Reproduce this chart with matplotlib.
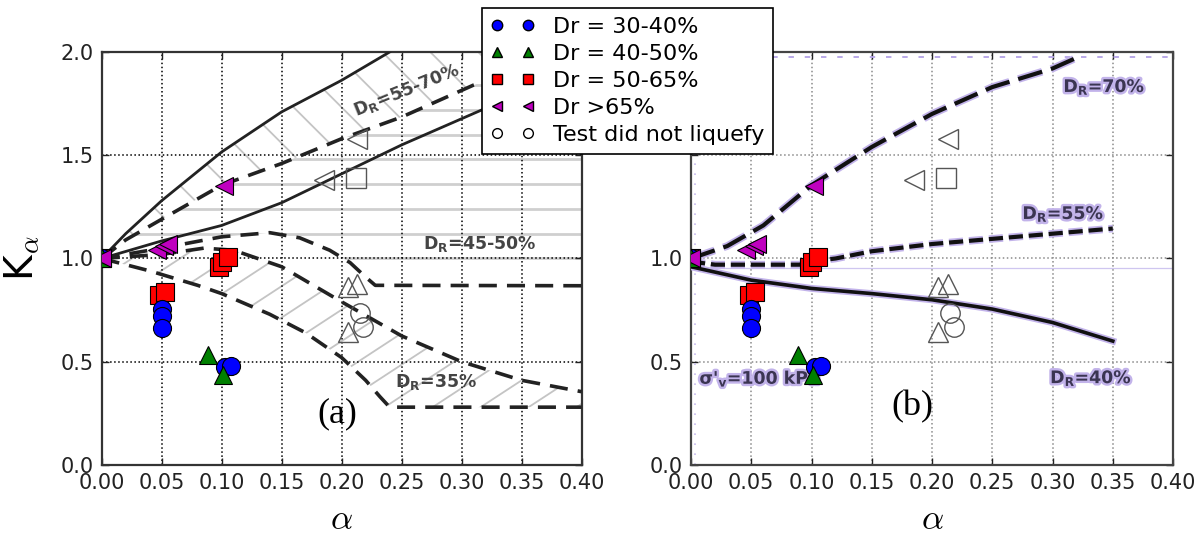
import numpy as np
import matplotlib
matplotlib.use('Agg')
import matplotlib.pyplot as plt
import matplotlib.patheffects as pe
from matplotlib.lines import Line2D
from matplotlib.collections import LineCollection
from matplotlib.path import Path

# test results, same points on both panels
blue_x = [0.0, 0.05, 0.05, 0.05, 0.103, 0.108]
blue_y = [1.0, 0.755, 0.72, 0.665, 0.475, 0.48]
green_x = [0.0, 0.089, 0.101]
green_y = [1.0, 0.535, 0.435]
red_x = [0.0, 0.048, 0.053, 0.098, 0.100, 0.105]
red_y = [1.0, 0.825, 0.84, 0.96, 0.985, 1.005]
mag_x = [0.0, 0.046, 0.052, 0.055, 0.102]
mag_y = [1.0, 1.04, 1.06, 1.07, 1.35]

# tests that did not liquefy (open symbols)
nl_left_x = [0.185, 0.213]
nl_left_y = [1.38, 1.58]
nl_sq_x = [0.212]
nl_sq_y = [1.39]
nl_up_x = [0.205, 0.213, 0.205]
nl_up_y = [0.86, 0.875, 0.645]
nl_circ_x = [0.215, 0.218]
nl_circ_y = [0.735, 0.67]

# panel (a) bands
upper_solid_x = [0.0, 0.02, 0.05, 0.10, 0.15, 0.20, 0.240]
upper_solid_y = [1.0, 1.12, 1.28, 1.516, 1.71, 1.863, 2.0]
mid_dash_x = [0.0, 0.02, 0.05, 0.10, 0.15, 0.20, 0.25, 0.31, 0.40]
mid_dash_y = [1.0, 1.09, 1.19, 1.355, 1.46, 1.58, 1.685, 1.84, 2.02]
lower_solid_x = [0.0, 0.05, 0.10, 0.15, 0.20, 0.25, 0.317, 0.40]
lower_solid_y = [1.0, 1.085, 1.16, 1.27, 1.41, 1.55, 1.72, 1.93]
hump_x = [0.0, 0.05, 0.10, 0.14, 0.165, 0.19, 0.207, 0.22, 0.228, 0.40]
hump_y = [1.0, 1.05, 1.105, 1.125, 1.10, 1.04, 0.98, 0.91, 0.87, 0.868]
d35_up_x = [0.0, 0.05, 0.085, 0.11, 0.15, 0.20, 0.25, 0.30, 0.35, 0.40]
d35_up_y = [1.0, 1.02, 1.05, 1.04, 0.96, 0.79, 0.625, 0.50, 0.41, 0.355]
d35_lo_x = [0.0, 0.04, 0.08, 0.10, 0.14, 0.17, 0.20, 0.22, 0.232, 0.24, 0.40]
d35_lo_y = [1.0, 0.94, 0.87, 0.83, 0.73, 0.64, 0.52, 0.41, 0.33, 0.28, 0.28]

# panel (b) curves
d70_x = [0.0, 0.03, 0.06, 0.10, 0.15, 0.20, 0.25, 0.30, 0.323]
d70_y = [1.0, 1.06, 1.16, 1.355, 1.54, 1.70, 1.83, 1.92, 1.98]
d55_x = [0.0, 0.02, 0.09, 0.10, 0.12, 0.15, 0.20, 0.25, 0.30, 0.35]
d55_y = [0.985, 0.97, 0.97, 0.985, 1.0, 1.035, 1.07, 1.095, 1.12, 1.145]
d40_x = [0.0, 0.05, 0.10, 0.15, 0.20, 0.25, 0.30, 0.35]
d40_y = [0.96, 0.895, 0.855, 0.83, 0.80, 0.755, 0.69, 0.60]

xticks = np.arange(0, 0.401, 0.05)
yticks = [0.0, 0.5, 1.0, 1.5, 2.0]

legend_labels = ['Dr = 30-40%', 'Dr = 40-50%', 'Dr = 50-65%', 'Dr >65%',
                 'Test did not liquefy']

DARK = '#222222'
GLOW = '#c2b3ea'


def hatch(ax, lo_x, lo_y, hi_x, hi_y, slope, offsets, color, lw):
    # parallel lines clipped to the area between two curves
    xs = np.linspace(0, 0.4, 400)
    lo = np.interp(xs, lo_x, lo_y)
    hi = np.interp(xs, hi_x, hi_y)
    verts = np.vstack([np.column_stack([xs, lo]),
                       np.column_stack([xs[::-1], hi[::-1]])])
    segs = [[(-0.2, c - 0.2 * slope), (0.6, c + 0.6 * slope)] for c in offsets]
    lc = LineCollection(segs, colors=color, linewidths=lw, zorder=1)
    ax.add_collection(lc, autolim=False)
    lc.set_clip_path(Path(verts), ax.transData)


def draw_tests(ax):
    ms = 13
    ax.plot(red_x, red_y, 's', color='r', mec='k', ms=ms, mew=0.8, zorder=5)
    ax.plot(blue_x, blue_y, 'o', color='b', mec='k', ms=ms, mew=0.8, zorder=5)
    ax.plot(green_x, green_y, '^', color='g', mec='k', ms=ms, mew=0.8, zorder=5)
    ax.plot(mag_x, mag_y, '<', color='m', mec='k', ms=ms, mew=0.8, zorder=5)
    for xs, ys, mk in [(nl_left_x, nl_left_y, '<'), (nl_sq_x, nl_sq_y, 's'),
                       (nl_up_x, nl_up_y, '^'), (nl_circ_x, nl_circ_y, 'o')]:
        ax.plot(xs, ys, mk, mfc='none', mec='#555555', ms=ms + 1, mew=1.0, zorder=5)


def style_axes(ax, grid_color, spine_color, ylab_fmt):
    ax.set_xlim(0, 0.4)
    ax.set_ylim(0, 2.0)
    ax.set_xticks(xticks)
    ax.set_yticks(yticks)
    ax.xaxis.set_major_formatter('{x:.2f}')
    ax.yaxis.set_major_formatter(ylab_fmt)
    ax.tick_params(direction='in', top=True, right=True, length=5, width=1,
                   labelsize=15, pad=6, colors='#222222')
    ax.grid(True, ls=':', color=grid_color, lw=1.1)
    for s in ax.spines.values():
        s.set_color(spine_color)
        s.set_linewidth(1.6)
    ax.set_xlabel(r'$\alpha$', fontsize=25, math_fontfamily='cm', va='center')
    ax.xaxis.set_label_coords(0.5, -0.13)


fig = plt.figure(figsize=(12.02, 5.37), dpi=100)
ax1 = fig.add_axes([0.0846, 0.1341, 0.3993, 0.7691])
ax2 = fig.add_axes([0.5749, 0.1341, 0.401, 0.7691])

# ---------------- panel (a)
style_axes(ax1, 'k', '#333333', '{x:.1f}')
hatch(ax1, mid_dash_x, mid_dash_y, upper_solid_x, upper_solid_y, -5.8,
      1.5 + 5.8 * np.arange(-0.2, 0.6, 0.04), '#c4c4c4', 1.3)
hatch(ax1, hump_x, hump_y, mid_dash_x, mid_dash_y, 0.0,
      np.arange(1.0, 2.0, 0.12), '#cfcfcf', 2.0)
hatch(ax1, d35_lo_x, d35_lo_y, d35_up_x, d35_up_y, 3.8,
      0.6 - 3.8 * np.arange(-0.2, 0.6, 0.04), '#c4c4c4', 1.3)

ax1.plot(upper_solid_x, upper_solid_y, '-', color=DARK, lw=2, zorder=3)
ax1.plot(lower_solid_x, lower_solid_y, '-', color=DARK, lw=2, zorder=3)
for cx, cy in [(mid_dash_x, mid_dash_y), (hump_x, hump_y),
               (d35_up_x, d35_up_y), (d35_lo_x, d35_lo_y)]:
    ax1.plot(cx, cy, color=DARK, lw=2.6, ls=(0, (5, 2.8)), zorder=3)

draw_tests(ax1)

lab_kw = dict(fontsize=12.5, fontweight='bold', color='#444444', zorder=4)
ax1.text(0.254, 1.815, r'D$_{\mathbf{R}}$=55-70%', rotation=22, ha='center',
         va='center', rotation_mode='anchor', **lab_kw)
ax1.text(0.315, 1.07, r'D$_{\mathbf{R}}$=45-50%', ha='center', va='center', **lab_kw)
ax1.text(0.279, 0.40, r'D$_{\mathbf{R}}$=35%', ha='center', va='center', **lab_kw)
ax1.text(0.196, 0.25, '(a)', family='Liberation Serif', fontsize=26,
         ha='center', va='center', zorder=4)

ax1.set_ylabel(r'K$_{\alpha}$', fontsize=28, math_fontfamily='cm')
ax1.yaxis.set_label_coords(-0.125, 0.5)

# ---------------- panel (b)
# the upper two tick labels sit under the legend
style_axes(ax2, '#8a8a8a', '#444444',
           lambda v, pos: f'{v:.1f}' if v < 1.4 else '')
ax2.axhline(1.975, color='#b3a3e6', lw=1.3, ls=(0, (3, 6)), zorder=2)
ax2.axhline(0.952, color='#cfc6f0', lw=0.9, zorder=2)
ax2.axvline(0.003, color='#c7bbee', lw=1.2, ls=(0, (1, 5)), zorder=2)

glow_line = [pe.Stroke(linewidth=5.5, foreground=GLOW), pe.Normal()]
ax2.plot(d70_x, d70_y, color='#111111', lw=3, ls=(0, (6, 2.2)), zorder=3,
         path_effects=glow_line)
ax2.plot(d55_x, d55_y, color='#111111', lw=3, ls=(0, (3.4, 1.4)), zorder=3,
         path_effects=glow_line)
ax2.plot(d40_x, d40_y, color='#111111', lw=2.6, zorder=3,
         path_effects=[pe.Stroke(linewidth=5, foreground=GLOW), pe.Normal()])

draw_tests(ax2)

glow_txt = [pe.withStroke(linewidth=3.5, foreground=GLOW)]
b_kw = dict(fontsize=12.5, fontweight='bold', color='#3b3552', zorder=4,
            path_effects=glow_txt)
ax2.text(0.343, 1.83, r'D$_{\mathbf{R}}$=70%', ha='center', va='center', **b_kw)
ax2.text(0.309, 1.215, r'D$_{\mathbf{R}}$=55%', ha='center', va='center', **b_kw)
ax2.text(0.332, 0.42, r'D$_{\mathbf{R}}$=40%', ha='center', va='center', **b_kw)
ax2.text(0.007, 0.42, "σ'$_{\\mathbf{v}}$=100 kPa", ha='left', va='center', **b_kw)
ax2.text(0.184, 0.28, '(b)', family='Liberation Serif', fontsize=26,
         ha='center', va='center', zorder=4)

# ---------------- legend
handles = [
    Line2D([], [], marker='o', color='b', mec='k', ls='none', ms=7.5),
    Line2D([], [], marker='^', color='g', mec='k', ls='none', ms=7.5),
    Line2D([], [], marker='s', color='r', mec='k', ls='none', ms=7),
    Line2D([], [], marker='<', color='m', mec='k', ls='none', ms=7.5),
    Line2D([], [], marker='o', mfc='white', mec='k', ls='none', ms=7),
]
leg = fig.legend(handles, legend_labels, loc='upper left',
                 bbox_to_anchor=(0.401, 0.985), fontsize=16, numpoints=2,
                 fancybox=False, edgecolor='k', framealpha=1, borderpad=0.39,
                 labelspacing=0.32, handlelength=1.98, handletextpad=0.82,
                 borderaxespad=0)
leg.get_frame().set_linewidth(1.2)

fig.savefig('out.png', dpi=100)
